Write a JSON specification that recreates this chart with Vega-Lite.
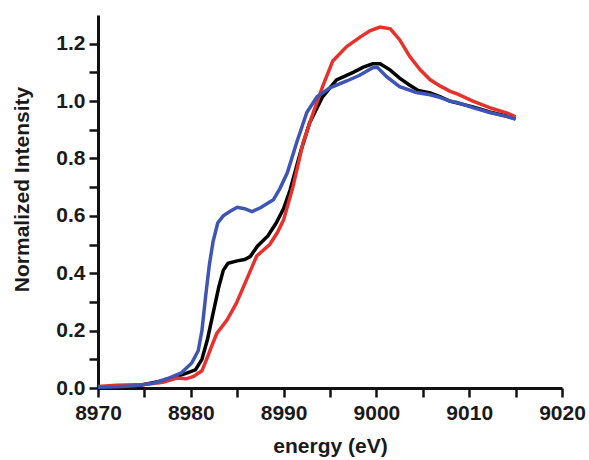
{
  "$schema": "https://vega.github.io/schema/vega-lite/v6.json",
  "width": 464,
  "height": 373,
  "autosize": {"type": "none"},
  "padding": {"left": 98, "top": 15, "right": 27, "bottom": 72},
  "background": "white",
  "config": {
    "view": {"stroke": null},
    "font": "Liberation Sans",
    "axis": {
      "labelFont": "Liberation Sans", "labelFontWeight": "bold", "labelFontSize": 21, "labelColor": "#1a1a1a",
      "titleFont": "Liberation Sans", "titleFontWeight": "bold", "titleFontSize": 21, "titleColor": "#1a1a1a",
      "domainColor": "#111111", "domainWidth": 3, "tickColor": "#111111", "tickWidth": 2.5,
      "grid": false, "labelOverlap": false, "labelFlush": false, "labelBound": false
    }
  },
  "data": {"values": [
    {"sample": "black", "energy": 8970, "intensity": 0.003},
    {"sample": "black", "energy": 8974, "intensity": 0.006},
    {"sample": "black", "energy": 8977, "intensity": 0.025},
    {"sample": "black", "energy": 8979.4, "intensity": 0.05},
    {"sample": "black", "energy": 8980.5, "intensity": 0.063},
    {"sample": "black", "energy": 8981.2, "intensity": 0.1},
    {"sample": "black", "energy": 8981.8, "intensity": 0.17},
    {"sample": "black", "energy": 8982.4, "intensity": 0.26},
    {"sample": "black", "energy": 8983.0, "intensity": 0.35},
    {"sample": "black", "energy": 8983.5, "intensity": 0.41},
    {"sample": "black", "energy": 8984.0, "intensity": 0.435},
    {"sample": "black", "energy": 8985.0, "intensity": 0.443},
    {"sample": "black", "energy": 8985.8, "intensity": 0.448},
    {"sample": "black", "energy": 8986.4, "intensity": 0.458},
    {"sample": "black", "energy": 8987.2, "intensity": 0.495},
    {"sample": "black", "energy": 8988.3, "intensity": 0.53},
    {"sample": "black", "energy": 8989.2, "intensity": 0.575},
    {"sample": "black", "energy": 8990.0, "intensity": 0.625},
    {"sample": "black", "energy": 8990.7, "intensity": 0.69},
    {"sample": "black", "energy": 8991.8, "intensity": 0.82},
    {"sample": "black", "energy": 8992.8, "intensity": 0.924},
    {"sample": "black", "energy": 8994.2, "intensity": 1.015},
    {"sample": "black", "energy": 8995.7, "intensity": 1.074},
    {"sample": "black", "energy": 8997.5, "intensity": 1.1},
    {"sample": "black", "energy": 8998.6, "intensity": 1.118},
    {"sample": "black", "energy": 8999.6, "intensity": 1.13},
    {"sample": "black", "energy": 9000.4, "intensity": 1.13},
    {"sample": "black", "energy": 9001.5, "intensity": 1.108},
    {"sample": "black", "energy": 9002.5, "intensity": 1.08},
    {"sample": "black", "energy": 9003.6, "intensity": 1.055},
    {"sample": "black", "energy": 9004.5, "intensity": 1.037},
    {"sample": "black", "energy": 9005.8, "intensity": 1.028},
    {"sample": "black", "energy": 9006.9, "intensity": 1.015},
    {"sample": "black", "energy": 9007.9, "intensity": 1.0},
    {"sample": "black", "energy": 9010.4, "intensity": 0.98},
    {"sample": "black", "energy": 9012.2, "intensity": 0.962},
    {"sample": "black", "energy": 9014.1, "intensity": 0.947},
    {"sample": "black", "energy": 9015.0, "intensity": 0.938},

    {"sample": "red", "energy": 8970, "intensity": 0.005},
    {"sample": "red", "energy": 8972, "intensity": 0.01},
    {"sample": "red", "energy": 8975, "intensity": 0.012},
    {"sample": "red", "energy": 8977, "intensity": 0.02},
    {"sample": "red", "energy": 8978.5, "intensity": 0.035},
    {"sample": "red", "energy": 8979.5, "intensity": 0.032},
    {"sample": "red", "energy": 8980.3, "intensity": 0.04},
    {"sample": "red", "energy": 8981.2, "intensity": 0.06},
    {"sample": "red", "energy": 8981.7, "intensity": 0.1},
    {"sample": "red", "energy": 8982.3, "intensity": 0.15},
    {"sample": "red", "energy": 8982.8, "intensity": 0.19},
    {"sample": "red", "energy": 8983.9, "intensity": 0.237},
    {"sample": "red", "energy": 8984.9, "intensity": 0.295},
    {"sample": "red", "energy": 8986.0, "intensity": 0.377},
    {"sample": "red", "energy": 8987.1, "intensity": 0.46},
    {"sample": "red", "energy": 8988.5, "intensity": 0.5},
    {"sample": "red", "energy": 8989.3, "intensity": 0.54},
    {"sample": "red", "energy": 8990.0, "intensity": 0.586},
    {"sample": "red", "energy": 8991.0, "intensity": 0.7},
    {"sample": "red", "energy": 8992.1, "intensity": 0.855},
    {"sample": "red", "energy": 8993.2, "intensity": 0.96},
    {"sample": "red", "energy": 8994.2, "intensity": 1.05},
    {"sample": "red", "energy": 8995.3, "intensity": 1.14},
    {"sample": "red", "energy": 8996.8, "intensity": 1.19},
    {"sample": "red", "energy": 8998.2, "intensity": 1.222},
    {"sample": "red", "energy": 8999.3, "intensity": 1.245},
    {"sample": "red", "energy": 9000.4, "intensity": 1.258},
    {"sample": "red", "energy": 9001.5, "intensity": 1.252},
    {"sample": "red", "energy": 9002.5, "intensity": 1.214},
    {"sample": "red", "energy": 9003.6, "intensity": 1.155},
    {"sample": "red", "energy": 9004.7, "intensity": 1.11},
    {"sample": "red", "energy": 9005.8, "intensity": 1.074},
    {"sample": "red", "energy": 9006.9, "intensity": 1.052},
    {"sample": "red", "energy": 9007.9, "intensity": 1.035},
    {"sample": "red", "energy": 9008.7, "intensity": 1.025},
    {"sample": "red", "energy": 9010.4, "intensity": 1.0},
    {"sample": "red", "energy": 9012.2, "intensity": 0.977},
    {"sample": "red", "energy": 9014.1, "intensity": 0.958},
    {"sample": "red", "energy": 9015.0, "intensity": 0.945},

    {"sample": "blue", "energy": 8970, "intensity": 0.003},
    {"sample": "blue", "energy": 8972, "intensity": 0.004},
    {"sample": "blue", "energy": 8974, "intensity": 0.008},
    {"sample": "blue", "energy": 8976, "intensity": 0.017},
    {"sample": "blue", "energy": 8977.5, "intensity": 0.033},
    {"sample": "blue", "energy": 8979, "intensity": 0.053},
    {"sample": "blue", "energy": 8980.1, "intensity": 0.087},
    {"sample": "blue", "energy": 8980.8, "intensity": 0.13},
    {"sample": "blue", "energy": 8981.2, "intensity": 0.2},
    {"sample": "blue", "energy": 8981.6, "intensity": 0.32},
    {"sample": "blue", "energy": 8982.0, "intensity": 0.43},
    {"sample": "blue", "energy": 8982.4, "intensity": 0.51},
    {"sample": "blue", "energy": 8982.9, "intensity": 0.575},
    {"sample": "blue", "energy": 8983.5, "intensity": 0.6},
    {"sample": "blue", "energy": 8984.2, "intensity": 0.615},
    {"sample": "blue", "energy": 8985.0, "intensity": 0.63},
    {"sample": "blue", "energy": 8985.8, "intensity": 0.625},
    {"sample": "blue", "energy": 8986.6, "intensity": 0.615},
    {"sample": "blue", "energy": 8987.5, "intensity": 0.628},
    {"sample": "blue", "energy": 8988.9, "intensity": 0.656},
    {"sample": "blue", "energy": 8989.6, "intensity": 0.695},
    {"sample": "blue", "energy": 8990.4, "intensity": 0.75},
    {"sample": "blue", "energy": 8991.4, "intensity": 0.855},
    {"sample": "blue", "energy": 8992.5, "intensity": 0.96},
    {"sample": "blue", "energy": 8993.6, "intensity": 1.015},
    {"sample": "blue", "energy": 8995.0, "intensity": 1.046},
    {"sample": "blue", "energy": 8996.8, "intensity": 1.07},
    {"sample": "blue", "energy": 8998.2, "intensity": 1.09},
    {"sample": "blue", "energy": 8999.6, "intensity": 1.116},
    {"sample": "blue", "energy": 9000.1, "intensity": 1.118},
    {"sample": "blue", "energy": 9001.1, "intensity": 1.085},
    {"sample": "blue", "energy": 9002.5, "intensity": 1.05},
    {"sample": "blue", "energy": 9004.3, "intensity": 1.03},
    {"sample": "blue", "energy": 9005.8, "intensity": 1.022},
    {"sample": "blue", "energy": 9006.9, "intensity": 1.012},
    {"sample": "blue", "energy": 9007.9, "intensity": 1.0},
    {"sample": "blue", "energy": 9008.7, "intensity": 0.995},
    {"sample": "blue", "energy": 9010.4, "intensity": 0.977},
    {"sample": "blue", "energy": 9012.2, "intensity": 0.96},
    {"sample": "blue", "energy": 9014.1, "intensity": 0.946},
    {"sample": "blue", "energy": 9015.0, "intensity": 0.937}
  ]},
  "encoding": {
    "x": {
      "field": "energy", "type": "quantitative",
      "scale": {"domain": [8970, 9020], "nice": false, "zero": false},
      "axis": {
        "title": "energy (eV)",
        "values": [8970, 8975, 8980, 8985, 8990, 8995, 9000, 9005, 9010, 9015, 9020],
        "format": "d",
        "labelExpr": "datum.value % 10 == 0 ? datum.label : ''",
        "tickSize": 9, "labelPadding": 5,
        "titleX": 232, "titleY": 58, "titleBaseline": "middle",
        "encode": {"ticks": {"update": {"y2": {"signal": "datum.value % 10 == 0 ? 9 : 6"}}}}
      }
    },
    "y": {
      "field": "intensity", "type": "quantitative",
      "scale": {"domain": [0, 1.3], "nice": false},
      "axis": {
        "title": "Normalized Intensity",
        "values": [0, 0.1, 0.2, 0.3, 0.4, 0.5, 0.6, 0.7, 0.8, 0.9, 1.0, 1.1, 1.2],
        "format": ".1f",
        "labelExpr": "round(datum.value * 10) % 2 == 0 ? datum.label : ''",
        "tickSize": 9, "labelPadding": 4,
        "titleX": -76, "titleY": 174, "titleBaseline": "middle",
        "encode": {"ticks": {"update": {"x2": {"signal": "round(datum.value * 10) % 2 == 0 ? -9 : -5"}}}}
      }
    }
  },
  "layer": [
    {"transform": [{"filter": "datum.sample == 'black'"}], "mark": {"type": "line", "color": "#000000", "strokeWidth": 3.5}},
    {"transform": [{"filter": "datum.sample == 'red'"}], "mark": {"type": "line", "color": "#e8312a", "strokeWidth": 3.5}},
    {"transform": [{"filter": "datum.sample == 'blue'"}], "mark": {"type": "line", "color": "#3f55b5", "strokeWidth": 3.5}}
  ]
}
